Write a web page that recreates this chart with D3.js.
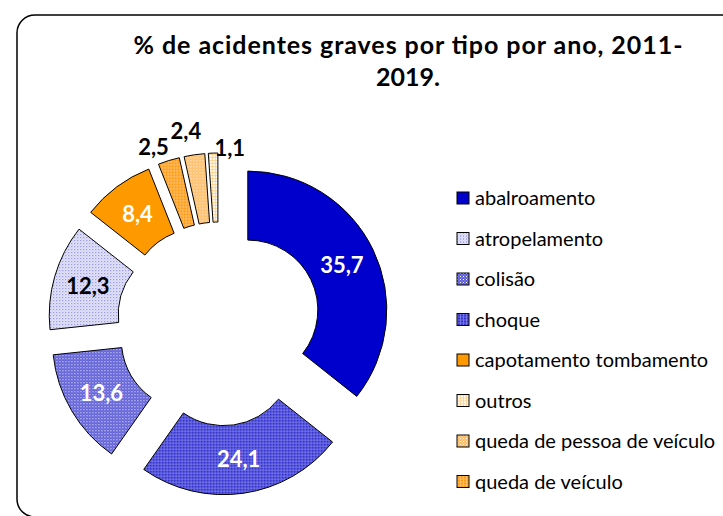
<!DOCTYPE html>
<html><head><meta charset="utf-8">
<script src="https://cdn.jsdelivr.net/npm/d3@7"></script>
<style>body{margin:0;background:#fff}svg{display:block}</style>
</head><body>
<svg id="c" width="723" height="516"></svg>
<script>
// ---- data ----
const categories = ["abalroamento","atropelamento","colisão","choque","capotamento tombamento","outros","queda de pessoa de veículo","queda de veículo"];
const values = [35.7, 12.3, 13.6, 24.1, 8.4, 1.1, 2.4, 2.5];
const valueLabels = ["35,7","12,3","13,6","24,1","8,4","1,1","2,4","2,5"];
const titleLines = ["% de acidentes graves por tipo por ano, 2011-","2019."];

const FONT = "Lato, 'Open Sans', sans-serif";
const svg = d3.select("#c");
const defs = svg.append("defs");

// patterns
function pat(id, size, bg, draw){
  const p = defs.append("pattern").attr("id", id).attr("patternUnits","userSpaceOnUse")
    .attr("width", size).attr("height", size);
  p.append("rect").attr("width", size).attr("height", size).attr("fill", bg);
  draw(p);
}
pat("p-atro", 3, "#e6e6f8", p => {
  p.append("rect").attr("x",0).attr("y",0).attr("width",1).attr("height",1).attr("fill","#7070e0");
  p.append("rect").attr("x",1.5).attr("y",1.5).attr("width",1).attr("height",1).attr("fill","#a8a8ee");
});
pat("p-coli", 3, "#5c5cd8", p => {
  p.append("rect").attr("x",0).attr("y",0).attr("width",1).attr("height",1).attr("fill","#ffffff");
  p.append("rect").attr("x",1.5).attr("y",1.5).attr("width",1).attr("height",1).attr("fill","#b8b8f2");
});
pat("p-choq", 3, "#3434d0", p => {
  p.append("rect").attr("x",0).attr("y",0).attr("width",3).attr("height",0.8).attr("fill","#8080ea");
  p.append("rect").attr("x",0).attr("y",0).attr("width",0.8).attr("height",3).attr("fill","#8080ea");
});
pat("p-outr", 3, "#fffaf0", p => {
  p.append("rect").attr("x",0).attr("y",0).attr("width",3).attr("height",0.8).attr("fill","#ffcf88");
  p.append("rect").attr("x",0).attr("y",0).attr("width",0.8).attr("height",3).attr("fill","#ffcf88");
});
pat("p-qpes", 3, "#ffbe68", p => {
  p.append("rect").attr("x",0).attr("y",0).attr("width",1).attr("height",1).attr("fill","#ffffff");
  p.append("rect").attr("x",1.5).attr("y",1.5).attr("width",1).attr("height",1).attr("fill","#ffe0b4");
});
pat("p-qvei", 3, "#ff9a10", p => {
  p.append("rect").attr("x",0).attr("y",0).attr("width",3).attr("height",0.8).attr("fill","#ffc474");
  p.append("rect").attr("x",0).attr("y",0).attr("width",0.8).attr("height",3).attr("fill","#ffc474");
});
const fills = ["#0000cc","url(#p-atro)","url(#p-coli)","url(#p-choq)","#ff9900","url(#p-outr)","url(#p-qpes)","url(#p-qvei)"];
const labelColors = ["#fff","#000","#fff","#fff","#fff","#000","#000","#000"];
const outside = [false,false,false,false,false,true,true,true];
const labelNudge = {5:[17,6],6:[-7,-13],7:[-12,-3]};

// frame
svg.append("rect").attr("x",17).attr("y",15).attr("width",722).attr("height",502)
  .attr("rx",18).attr("fill","#fff").attr("stroke","#000").attr("stroke-width",1.5);

// title
svg.append("text").attr("text-anchor","middle")
  .attr("font-family",FONT).attr("font-weight","bold").attr("font-size",25).attr("fill","#000")
  .selectAll("tspan").data(titleLines).join("tspan")
  .attr("x",408).attr("y",(d,i)=>54+i*32)
  .attr("textLength",(d,i)=>i===0?549:null).attr("lengthAdjust","spacing")
  .text(d=>d);

// pie
const cx = 219, cy = 324, R = 139, r = 70, explode = 32;
const data = categories.map((c,i)=>({cat:c, value:values[i], idx:i}));
const pie = d3.pie().value(d=>d.value).sort((a,b)=>b.value-a.value);
const arcs = pie(data);
const arc = d3.arc().innerRadius(r).outerRadius(R);
const outArc = d3.arc().innerRadius(150).outerRadius(150);
const g = svg.append("g").attr("transform",`translate(${cx},${cy})`);
const sg = g.selectAll("g.s").data(arcs).join("g").attr("class","s")
  .attr("transform", d=>{const m=(d.startAngle+d.endAngle)/2; return `translate(${explode*Math.sin(m)},${-explode*Math.cos(m)})`;});
sg.append("path").attr("d",arc).attr("fill",d=>fills[d.data.idx]).attr("stroke","#000").attr("stroke-width",1);
sg.append("text")
  .attr("transform", d=>{
    const i=d.data.idx;
    if(outside[i]){const p=outArc.centroid(d); const n=labelNudge[i]; return `translate(${p[0]+n[0]},${p[1]+n[1]})`;}
    const p=arc.centroid(d); return `translate(${p[0]},${p[1]})`;})
  .attr("text-anchor","middle").attr("dy","0.36em")
  .attr("font-family",FONT).attr("font-weight","bold").attr("font-size",22)
  .attr("fill",d=>labelColors[d.data.idx]).text(d=>valueLabels[d.data.idx]);

// legend
const lg = svg.append("g").attr("transform","translate(457,198)");
const li = lg.selectAll("g").data(categories).join("g").attr("transform",(d,i)=>`translate(0,${i*40.5})`);
li.append("rect").attr("x",0).attr("y",-6).attr("width",12).attr("height",12)
  .attr("fill",(d,i)=>fills[i]).attr("stroke","#000").attr("stroke-width",1);
li.append("text").attr("x",18).attr("dy","0.35em").attr("font-family",FONT).attr("font-size",20)
  .attr("fill","#000").text(d=>d);
</script>
</body></html>
